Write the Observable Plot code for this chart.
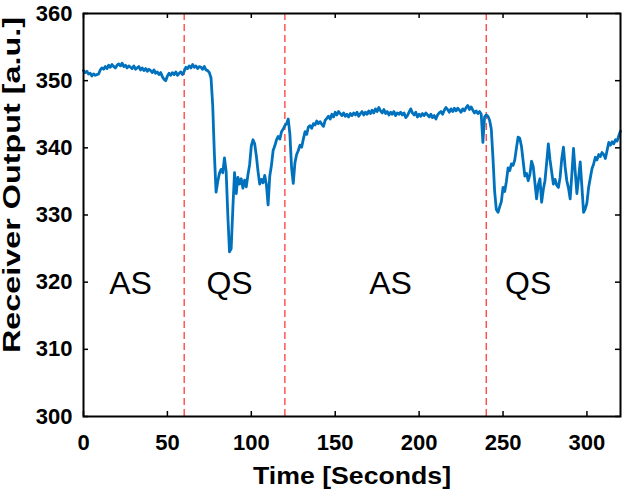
<!DOCTYPE html>
<html><head><meta charset="utf-8">
<script src="https://cdn.jsdelivr.net/npm/d3@7"></script>
<script src="https://cdn.jsdelivr.net/npm/@observablehq/plot@0.6"></script>
<style>
body{margin:0;background:#fff}
svg{font-family:"Liberation Sans",Arial,sans-serif}
</style>
</head><body><div id="chart"></div>
<script>
// Receiver output, one sample per second from t = 0 s to t = 320 s
const receiverOutput = [
351.5,351.2,351.4,351.0,351.1,350.7,351.0,350.8,350.9,351.0,
351.6,351.9,351.7,352.1,351.8,352.3,352.0,352.4,352.1,351.9,
352.3,352.5,352.2,352.6,352.1,352.3,351.9,352.2,352.0,351.8,
352.2,351.7,351.9,352.1,351.6,351.9,351.5,351.8,351.4,351.7,
351.5,351.2,351.6,351.1,351.3,350.9,351.2,350.6,350.2,350.0,
350.7,351.1,350.8,351.2,350.9,351.3,350.8,351.1,351.3,350.9,
351.4,352.0,351.8,352.2,351.9,352.4,352.0,352.2,351.8,352.1,
352.0,351.7,352.1,351.6,351.5,351.2,350.4,346.3,339.0,333.4,
335.0,336.2,336.8,336.3,338.5,336.5,330.0,324.5,325.0,331.0,
336.3,333.2,335.6,334.6,335.4,334.0,335.2,334.2,336.0,337.5,
340.3,341.2,340.6,338.8,336.5,334.6,335.3,334.8,335.9,334.5,
331.5,335.8,337.4,339.6,340.3,341.2,341.7,341.3,342.4,342.8,
343.3,343.6,344.3,342.0,337.0,334.7,337.8,339.0,339.6,340.4,
340.1,341.3,342.4,342.0,343.1,343.3,342.9,343.6,343.4,344.0,
343.6,343.9,343.5,343.2,344.1,344.4,344.7,344.3,345.0,344.6,
345.3,344.9,345.4,345.1,344.8,345.2,344.7,345.0,344.6,345.1,
344.8,345.2,344.9,345.3,344.7,345.1,345.4,344.9,345.3,345.0,
345.5,345.1,345.6,345.2,345.8,345.4,346.0,345.5,345.2,345.7,
345.1,345.4,344.9,345.3,345.0,345.4,344.8,345.2,345.0,345.3,
344.9,345.2,344.5,344.8,345.3,345.8,345.2,344.9,345.3,344.6,
345.0,344.7,345.1,344.8,345.2,344.9,344.6,345.0,344.5,344.8,
344.3,344.9,345.2,345.4,345.0,345.6,346.0,345.7,345.3,345.8,
345.4,345.9,345.5,345.9,345.6,345.3,345.8,345.5,346.0,346.3,
345.7,346.1,345.6,345.2,345.5,345.1,345.4,345.0,340.8,344.6,
344.9,344.7,344.1,342.8,338.5,333.5,330.8,330.4,331.2,332.0,
334.1,333.5,335.0,337.0,336.6,337.6,337.4,338.2,340.0,341.6,
341.4,340.2,338.0,335.8,336.2,335.1,336.0,338.0,337.2,334.8,
332.4,334.5,335.4,331.9,333.8,335.1,337.8,340.6,338.2,336.4,
334.6,335.3,334.4,334.1,335.6,338.4,340.1,337.2,335.1,334.0,
332.4,336.0,339.9,336.5,333.2,335.5,337.9,334.2,330.4,330.9,
331.8,334.1,335.5,336.9,337.6,338.6,338.2,339.0,338.7,339.3,
339.0,338.4,339.6,340.8,340.4,340.9,340.6,341.2,341.0,341.8,
342.5
];
const phaseBoundaries = [60, 120, 240];
const phaseLabels = ["AS", "QS", "AS", "QS"];
const phaseLabelTimes = [28, 87, 183, 265];
const phaseLabelLevel = 319.8;
const xTicks = [0, 50, 100, 150, 200, 250, 300];
const yTicks = [300, 310, 320, 330, 340, 350, 360];
const xDomain = [0, 320];
const yDomain = [300, 360];
const xTitle = "Time [Seconds]";
const yTitle = "Receiver Output [a.u.]";

const series = receiverOutput.map((v, i) => ({t: i, v}));
const phases = phaseLabels.map((label, i) => ({label, t: phaseLabelTimes[i], v: phaseLabelLevel}));

const W = 624, H = 493, mL = 83, mR = 4, mT = 13, mB = 77;
const pw = W - mL - mR, ph = H - mT - mB;
const font = '"Liberation Sans", Arial, sans-serif';

const chart = Plot.plot({
  width: W, height: H,
  marginLeft: mL, marginRight: mR, marginTop: mT, marginBottom: mB,
  x: {domain: xDomain},
  y: {domain: yDomain},
  style: {fontFamily: font, background: "white", color: "black", overflow: "visible"},
  marks: [
    Plot.ruleX(phaseBoundaries, {stroke: "#ff3b3b", strokeWidth: 1.3, strokeDasharray: "7,4"}),
    Plot.line(series, {x: "t", y: "v", stroke: "#0072BD", strokeWidth: 2.8, strokeLinejoin: "round"}),
    Plot.text(phases, {x: "t", y: "v", text: "label", fontSize: 32, lineAnchor: "middle", fill: "black"}),
    Plot.frame({stroke: "black", strokeWidth: 2}),
    Plot.tickX(xTicks, {x: d => d, insetTop: ph - 5, stroke: "black", strokeWidth: 1.5}),
    Plot.tickX(xTicks, {x: d => d, insetBottom: ph - 5, stroke: "black", strokeWidth: 1.5}),
    Plot.tickY(yTicks, {y: d => d, insetRight: pw - 5, stroke: "black", strokeWidth: 1.5}),
    Plot.tickY(yTicks, {y: d => d, insetLeft: pw - 5, stroke: "black", strokeWidth: 1.5}),
    Plot.axisX({ticks: xTicks, tickSize: 0, tickPadding: 18, fontSize: 22, fontWeight: "bold", label: null}),
    Plot.axisY({ticks: yTicks, tickSize: 0, tickPadding: 11, fontSize: 22, fontWeight: "bold", label: null}),
    Plot.text([xTitle], {frameAnchor: "bottom", textAnchor: "middle", dy: 67, lineAnchor: "bottom", fontSize: 23, fontWeight: "bold", fill: "black"}),
    Plot.text([yTitle], {frameAnchor: "left", textAnchor: "middle", rotate: -90, dx: -71, dy: -30, lineAnchor: "middle", fontSize: 23, fontWeight: "bold", fill: "black"})
  ]
});
// stretch the two axis titles to the lengths they have in the reference
chart.querySelectorAll("text").forEach(t => {
  if (t.textContent === yTitle) { t.setAttribute("textLength", 336); t.setAttribute("lengthAdjust", "spacingAndGlyphs"); }
  if (t.textContent === xTitle) { t.setAttribute("textLength", 198); t.setAttribute("lengthAdjust", "spacingAndGlyphs"); }
});
document.getElementById("chart").appendChild(chart);
</script>
</body></html>
